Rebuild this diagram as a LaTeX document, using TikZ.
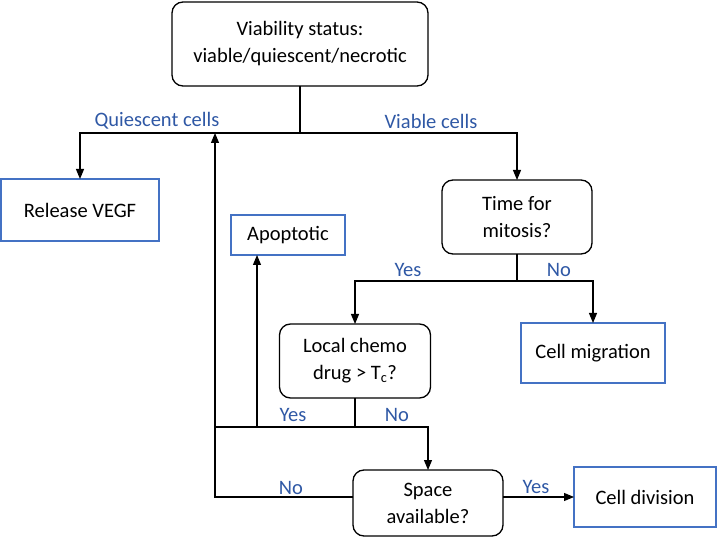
\documentclass[tikz,border=0pt]{standalone}
\usepackage{fontspec}
\setmainfont{Carlito}
\usetikzlibrary{arrows.meta}
\definecolor{boxblue}{RGB}{68,114,196}
\definecolor{labblue}{RGB}{47,88,165}

\begin{document}
\begin{tikzpicture}[x=1pt,y=-1pt,
  every node/.style={font=\fontsize{20.5}{27}\selectfont, align=center, inner sep=0pt, outer sep=0pt},
  query/.style={draw=black, line width=1.3pt, rounded corners=11pt},
  outcome/.style={draw=boxblue, line width=1.4pt},
  lab/.style={text=labblue, font=\fontsize{20.5}{24}\selectfont},
  flow/.style={-{Triangle[length=10pt,width=8pt]}, line width=1.1pt},
  link/.style={line width=1.1pt}]
\useasboundingbox (0,0) rectangle (718,537);

\node[query, minimum width=256pt, minimum height=84pt] (status) at (300,44) {Viability status:\\viable/quiescent/necrotic};
\node[outcome, minimum width=158pt, minimum height=62pt] (vegf) at (80,210) {Release VEGF};
\node[query, minimum width=150pt, minimum height=74pt] (mitosis) at (517,217) {Time for\\mitosis?};
\node[outcome, minimum width=114pt, minimum height=40pt] (apop) at (288,235) {Apoptotic};
\node[query, minimum width=151pt, minimum height=74pt] (chemo) at (355,361) {Local chemo\\drug > T\textsubscript{c}?};
\node[outcome, minimum width=144pt, minimum height=60pt] (migr) at (593,353) {Cell migration};
\node[query, minimum width=150pt, minimum height=66pt] (space) at (428,503) {Space\\available?};
\node[outcome, minimum width=142pt, minimum height=60pt] (div) at (645,497) {Cell division};

% viability split
\coordinate (split) at (300,133);
\draw[link] (status.south) -- (split);
\draw[flow] (split) -| (vegf.north);
\draw[flow] (split) -| (mitosis.north);
\node[lab] (quies) at (157,121) {Quiescent cells};
\node[lab] (viab) at (431,121) {Viable cells};

% mitosis split
\coordinate (mfork) at (517,281);
\draw[link] (mitosis.south) -- (mfork);
\draw[flow] (mfork) -| (chemo.north);
\draw[flow] (mfork) -| (migr.north);
\node[lab] (myes) at (408,270) {Yes};
\node[lab] (mno) at (559,270) {No};

% chemo split
\coordinate (cfork) at (355,427);
\coordinate (loopin) at (215,427);
\coordinate (ytee) at (257,427);
\draw[link] (chemo.south) -- (cfork);
\draw[link] (cfork) -- (loopin);
\draw[flow] (cfork) -| (space.north);
\draw[flow] (ytee) -- (ytee |- apop.south);
\node[lab] (cyes) at (293,415) {Yes};
\node[lab] (cno) at (397,415) {No};

% space split
\coordinate (back) at (215,133);
\draw[flow] (space.west |- div.west) -| (back);
\draw[flow] (space.east |- div.west) -- (div.west);
\node[lab] (sno) at (291,488) {No};
\node[lab] (syes) at (536,487) {Yes};
\end{tikzpicture}
\end{document}
